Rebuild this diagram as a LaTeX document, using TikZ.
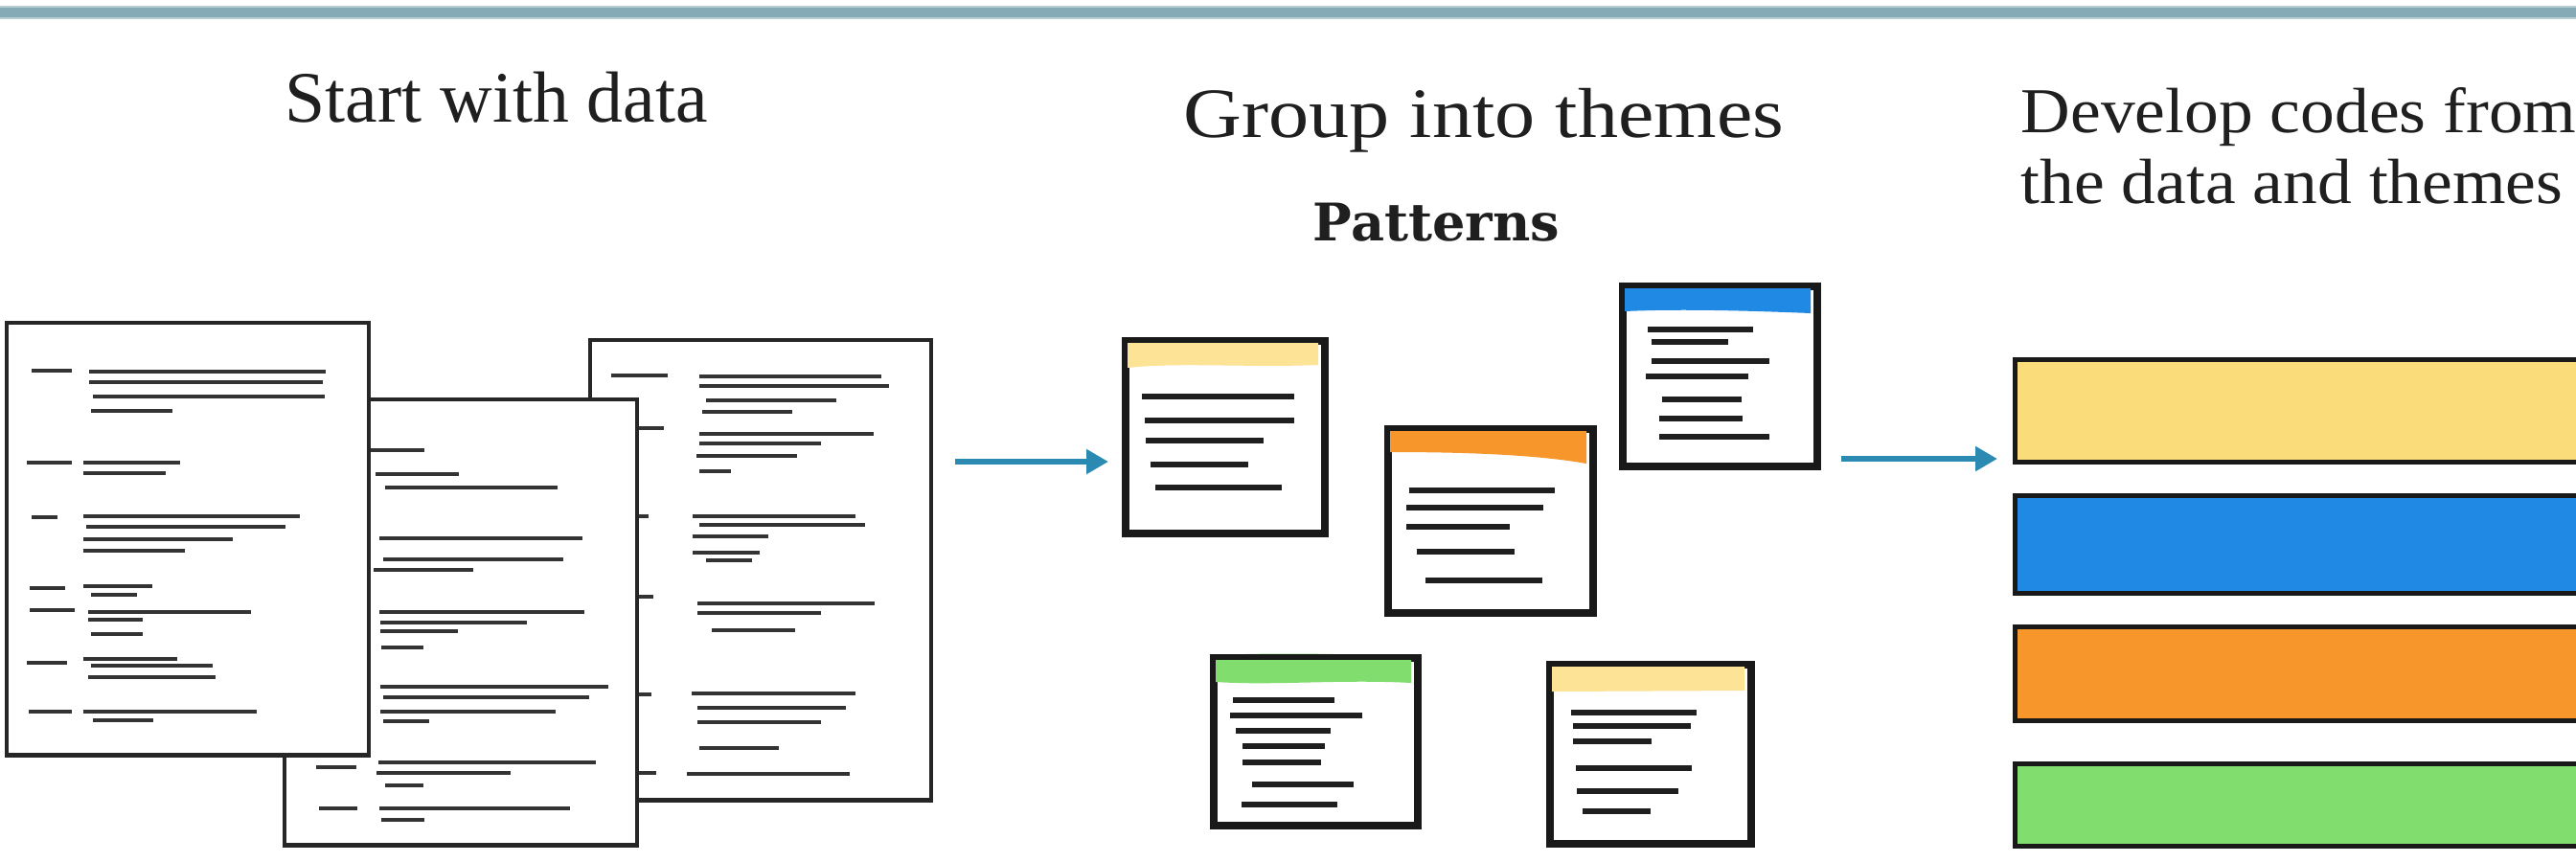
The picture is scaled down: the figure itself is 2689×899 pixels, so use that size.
\documentclass[tikz,border=0pt]{standalone}
\usepackage{fontspec}
\setmainfont{Liberation Serif}
\newfontfamily\startfont{Liberation Serif}
\newfontfamily\headfont[FakeStretch=1.14]{Liberation Serif}
\newfontfamily\devfont[FakeStretch=1.07]{Liberation Serif}
\newfontfamily\patfont{DejaVu Serif}
\usetikzlibrary{arrows.meta}
\definecolor{topband}{HTML}{86ABB6}
\definecolor{arrowblue}{HTML}{2A8AB2}
\definecolor{cyellow}{HTML}{FBDC7A}
\definecolor{cblue}{HTML}{2089E4}
\definecolor{corange}{HTML}{F7962B}
\definecolor{cgreen}{HTML}{80DD6E}
\newcommand\dline[3]{\draw[txl] (#1,#3) -- (#2,#3);}
\newcommand\kline[3]{\draw[cardl] (#1,#3) -- (#2,#3);}
\begin{document}
\begin{tikzpicture}[x=0.01cm,y=-0.01cm,
  docframe/.style={draw=black!85, line width=1.2pt, fill=white, inner sep=0pt, anchor=north west},
  txl/.style={draw=black!80, line width=1.2pt},
  cardbox/.style={draw=black!90, line width=1.5pt, fill=white, inner sep=0pt, anchor=north west},
  cardl/.style={draw=black!88, line width=1.7pt},
  codebar/.style={draw=black!90, line width=1.4pt, inner sep=0pt, anchor=north west, minimum width=6.2cm},
  arrowc/.style={draw=arrowblue, line width=1.8pt, -{Triangle[length=6.5pt,width=7pt]}},
  lbl/.style={inner sep=0pt, anchor=base west, text=black!88}
]
\clip (0,0) rectangle (2689,899);
\fill[white] (0,0) rectangle (2689,899);
\fill[topband!60] (0,6) rectangle (2689,20);
\fill[topband] (0,8) rectangle (2689,18);

% titles
\node[lbl, font=\startfont\fontsize{21.5}{26}\selectfont] (t1) at (297,127) {Start with data};
\node[lbl, font=\headfont\fontsize{21}{25}\selectfont] (t2) at (1235,143) {Group into themes};
\node[lbl, font=\patfont\bfseries\fontsize{15.4}{18}\selectfont] (t3) at (1370,251) {Patterns};
\node[lbl, font=\devfont\fontsize{19}{23}\selectfont] (t4a) at (2109,138) {Develop codes from};
\node[lbl, font=\devfont\fontsize{19}{23}\selectfont] (t4b) at (2109,212) {the data and themes};

% back document
\node[docframe, minimum width=3.56cm, minimum height=4.80cm] (docC) at (614,353) {};
\dline{638}{697}{392}\dline{650}{693}{447}\dline{650}{677}{539}\dline{650}{682}{623}\dline{650}{680}{725}\dline{650}{685}{807}
\dline{730}{920}{393}\dline{730}{928}{403}\dline{737}{873}{418}\dline{733}{827}{430}
\dline{730}{912}{453}\dline{730}{857}{463}\dline{727}{832}{476}\dline{730}{763}{492}
\dline{723}{893}{539}\dline{730}{903}{548}\dline{723}{802}{560}\dline{723}{793}{577}\dline{737}{785}{585}
\dline{728}{913}{630}\dline{728}{857}{640}\dline{743}{830}{658}
\dline{722}{893}{724}\dline{728}{883}{739}\dline{728}{857}{754}\dline{730}{813}{781}
\dline{717}{887}{808}

% middle document
\node[docframe, minimum width=3.68cm, minimum height=4.65cm] (docB) at (295,415) {};
\dline{340}{443}{470}\dline{392}{479}{495}\dline{402}{582}{509}
\dline{396}{608}{562}\dline{400}{588}{584}\dline{390}{494}{595}
\dline{396}{610}{639}\dline{397}{550}{650}\dline{397}{478}{659}\dline{398}{442}{676}
\dline{397}{635}{717}\dline{400}{615}{728}\dline{397}{580}{743}\dline{400}{448}{753}
\dline{330}{372}{801}\dline{395}{622}{796}\dline{393}{533}{807}\dline{402}{442}{820}
\dline{333}{373}{844}\dline{396}{595}{844}\dline{398}{443}{856}

% front document
\node[docframe, minimum width=3.78cm, minimum height=4.51cm] (docA) at (5,335) {};
\dline{33}{75}{387}\dline{28}{75}{483}\dline{33}{60}{540}\dline{31}{68}{614}\dline{31}{78}{637}\dline{28}{70}{692}\dline{30}{75}{743}
\dline{93}{340}{388}\dline{93}{337}{399}\dline{97}{339}{414}\dline{95}{180}{429}
\dline{87}{188}{483}\dline{87}{173}{494}
\dline{87}{313}{539}\dline{90}{298}{550}\dline{87}{243}{563}\dline{87}{193}{575}
\dline{87}{159}{612}\dline{95}{143}{621}
\dline{92}{262}{639}\dline{92}{149}{647}\dline{95}{149}{662}
\dline{87}{185}{688}\dline{95}{222}{695}\dline{92}{225}{707}
\dline{87}{268}{743}\dline{97}{160}{752}

% pattern cards
\node[cardbox, minimum width=2.05cm, minimum height=1.98cm] (card1) at (1174,355) {};
\fill[cyellow!80] (1177,358) -- (1376,358) -- (1376,381) .. controls (1300,384) and (1230,378) .. (1177,384) -- cycle;
\draw[black!90, line width=1.5pt] (card1.north west) rectangle (card1.south east);
\kline{1192}{1351}{414}\kline{1195}{1351}{439}\kline{1196}{1319}{460}\kline{1201}{1303}{485}\kline{1206}{1338}{509}

\node[cardbox, minimum width=2.11cm, minimum height=1.89cm] (card2) at (1448,447) {};
\fill[corange] (1451,450) -- (1656,450) -- (1656,484) .. controls (1600,474) and (1520,472) .. (1451,472) -- cycle;
\draw[black!90, line width=1.5pt] (card2.north west) rectangle (card2.south east);
\kline{1471}{1623}{512}\kline{1468}{1611}{530}\kline{1468}{1576}{550}\kline{1479}{1581}{576}\kline{1488}{1610}{606}

\node[cardbox, minimum width=2.00cm, minimum height=1.85cm] (card3) at (1693,298) {};
\fill[cblue] (1696,301) -- (1890,301) -- (1890,327) .. controls (1840,325) and (1760,322) .. (1696,325) -- cycle;
\draw[black!90, line width=1.5pt] (card3.north west) rectangle (card3.south east);
\kline{1720}{1830}{344}\kline{1724}{1804}{357}\kline{1724}{1847}{377}\kline{1718}{1825}{393}\kline{1735}{1818}{417}\kline{1732}{1819}{437}\kline{1732}{1847}{456}

\node[cardbox, minimum width=2.10cm, minimum height=1.72cm] (card4) at (1266,686) {};
\fill[cgreen] (1269,684) .. controls (1340,681) and (1420,683) .. (1473,686) -- (1473,713) .. controls (1400,709) and (1330,716) .. (1269,712) -- cycle;
\draw[black!90, line width=1.5pt] (card4.north west) rectangle (card4.south east);
\kline{1287}{1393}{731}\kline{1284}{1422}{747}\kline{1290}{1389}{763}\kline{1297}{1383}{779}\kline{1297}{1379}{796}\kline{1307}{1413}{819}\kline{1296}{1396}{840}

\node[cardbox, minimum width=2.07cm, minimum height=1.84cm] (card5) at (1617,693) {};
\fill[cyellow!80] (1620,696) -- (1821,696) -- (1821,721) -- (1620,722) -- cycle;
\draw[black!90, line width=1.5pt] (card5.north west) rectangle (card5.south east);
\kline{1640}{1771}{744}\kline{1642}{1765}{758}\kline{1642}{1724}{774}\kline{1645}{1766}{802}\kline{1646}{1752}{826}\kline{1652}{1723}{847}

% code bars
\node[codebar, fill=cyellow, minimum height=1.07cm] (bar1) at (2101,373) {};
\node[codebar, fill=cblue, minimum height=1.02cm] (bar2) at (2101,515) {};
\node[codebar, fill=corange, minimum height=0.98cm] (bar3) at (2101,652) {};
\node[codebar, fill=cgreen, minimum height=0.86cm] (bar4) at (2101,795) {};

% arrows
\coordinate (a1y) at (0,482);
\coordinate (a2y) at (0,479);
\draw[arrowc, shorten <=0.23cm, shorten >=0.17cm] (docC.east |- a1y) -- (card1.west |- a1y);
\draw[arrowc, shorten <=0.24cm, shorten >=0.16cm] (card3.east |- a2y) -- (bar1.west |- a2y);
\end{tikzpicture}
\end{document}
